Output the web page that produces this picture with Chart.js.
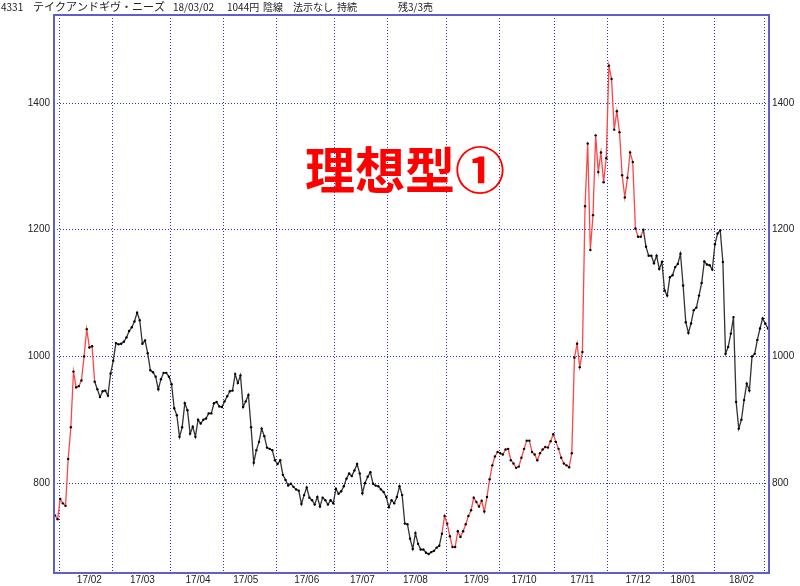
<!DOCTYPE html>
<html>
<head>
<meta charset="utf-8">
<script src="https://cdn.jsdelivr.net/npm/chart.js@4.4.1/dist/chart.umd.min.js"></script>
<style>
  body { margin: 0; background: #fff; }
  #wrap { width: 800px; height: 586px; position: relative; }
</style>
</head>
<body>
<div id="wrap"><canvas id="priceChart"></canvas></div>
<script>
// Month labels on the x axis (17/02 .. 18/02)
const monthLabels = ['17/02', '17/03', '17/04', '17/05', '17/06', '17/07', '17/08',
  '17/09', '17/10', '17/11', '17/12', '18/01', '18/02'];
// Trading days per month: Jan17 (tail), Feb17 .. Feb18, Mar18 (head)
const monthDays = [2, 20, 22, 20, 20, 22, 20, 22, 20, 21, 20, 21, 19, 19, 2];
// Trading days before the 16th in each labelled month
const midOffset = [11, 11, 10, 8, 11, 10, 10, 11, 9, 10, 11, 7, 10];

// Daily closes, 17/01/30 .. 18/03/02
const closes = [
  749, 743,
  775, 768, 764, 838, 888, 976, 951, 953, 962, 1000, 1043, 1014, 1016, 960, 948, 936, 945, 946, 938, 973,
  993, 1021, 1019, 1020, 1023, 1030, 1040, 1046, 1055, 1069, 1057, 1020, 1025, 1005, 978, 975, 968, 948, 964, 974, 974, 968,
  956, 918, 907, 873, 888, 926, 915, 878, 889, 873, 900, 894, 900, 902, 910, 910, 926, 928, 921, 920,
  929, 937, 945, 946, 972, 958, 970, 920, 929, 939, 888, 832, 852, 865, 886, 874, 856, 854, 852, 836,
  830, 836, 813, 805, 796, 799, 794, 790, 788, 767, 781, 793, 777, 773, 766, 778, 763, 777, 773, 766, 773, 768,
  791, 783, 787, 795, 807, 815, 811, 820, 830, 815, 784, 800, 810, 817, 799, 796, 795, 790, 786, 778,
  762, 773, 768, 778, 795, 781, 736, 735, 712, 696, 721, 704, 695, 695, 690, 688, 691, 693, 698, 701, 720, 748,
  736, 716, 699, 699, 724, 715, 724, 735, 748, 757, 777, 770, 763, 772, 755, 778, 806, 828, 842, 849,
  847, 845, 853, 854, 836, 831, 824, 826, 840, 854, 867, 867, 849, 845, 836, 847, 853, 857, 856, 866, 877,
  865, 854, 840, 831, 828, 825, 847, 998, 1020, 983, 1007, 1237, 1336, 1168, 1223, 1349, 1291, 1322, 1275, 1313,
  1459, 1438, 1358, 1387, 1354, 1286, 1251, 1282, 1322, 1307, 1202, 1189, 1189, 1200, 1173, 1159, 1159, 1147, 1159, 1138, 1149,
  1104, 1096, 1125, 1128, 1141, 1146, 1162, 1112, 1054, 1037, 1052, 1073, 1077, 1096, 1116, 1150, 1145, 1144, 1137,
  1177, 1194, 1199, 1149, 1004, 1015, 1036, 1062, 928, 886, 900, 931, 957, 946, 1000, 1004, 1026, 1044, 1060,
  1052, 1044
];
// Index ranges drawn in red (trend phases)
const redRanges = [[0, 15], [146, 222]];
const yTicks = [800, 1000, 1200, 1400];

// month start indices
const monthStart = [0];
monthDays.forEach(d => monthStart.push(monthStart[monthStart.length - 1] + d));
const gridIdx = monthStart.slice(1, monthDays.length).map(s => s - 0.35);
const labelIdx = monthLabels.map((_, k) => monthStart[k + 1] + midOffset[k]);

const RED = 'rgb(255,70,70)';
const DARK = '#333';
const GRID = 'rgb(50,50,190)';
const isRed = i => redRanges.some(r => i >= r[0] && i < r[1]);

const frame = {
  id: 'frame',
  beforeDraw(chart) {
    const c = chart.ctx;
    c.save();
    c.fillStyle = '#fff';
    c.fillRect(0, 0, chart.width, chart.height);
    c.restore();
  },
  afterDraw(chart) {
    const c = chart.ctx;
    const a = chart.chartArea;
    c.save();
    c.strokeStyle = 'rgb(95,95,200)';
    c.lineWidth = 2;
    c.strokeRect(a.left, a.top, a.right - a.left, a.bottom - a.top);

    // header line
    c.fillStyle = '#222';
    c.textBaseline = 'middle';
    const head = [['4331', 1, 10], ['テイクアンドギヴ・ニーズ', 33, 11], ['18/03/02', 173, 10], ['1044円', 227, 10],
      ['陰線', 263, 10], ['法示なし', 293, 10], ['持続', 337, 10], ['残3/3売', 398, 10]];
    head.forEach(([t, x, sz]) => {
      c.font = sz + 'px "Noto Sans CJK JP"';
      c.fillText(t, x, 7);
    });

    // big annotation
    c.fillStyle = '#ff0000';
    c.font = 'bold 50px "Noto Sans CJK JP"';
    c.textAlign = 'center';
    c.fillText('理想型①', 405, 170);
    c.restore();
  }
};

const tickFont = { family: '"Liberation Sans", Arial', size: 10 };

new Chart(document.getElementById('priceChart'), {
  type: 'line',
  data: {
    datasets: [{
      data: closes.map((v, i) => ({ x: i, y: v })),
      borderWidth: 1.3,
      borderColor: DARK,
      segment: {
        borderColor: ctx => isRed(ctx.p0DataIndex) ? RED : DARK
      },
      pointRadius: 1.2,
      pointBorderWidth: 0,
      pointBackgroundColor: '#000',
      tension: 0
    }]
  },
  options: {
    responsive: true,
    maintainAspectRatio: false,
    animation: false,
    layout: { padding: { top: 15, left: 0, right: 0, bottom: 0 } },
    plugins: { legend: { display: false }, tooltip: { enabled: false } },
    scales: {
      x: {
        type: 'linear',
        position: 'bottom',
        min: -0.35,
        max: 269.4,
        grid: { color: GRID, lineWidth: 1, drawTicks: false },
        border: { display: false, dash: [1, 2] },
        ticks: { display: false },
        afterBuildTicks: s => { s.ticks = gridIdx.map(v => ({ value: v })); },
        afterFit: s => { s.height = 0; }
      },
      xl: {
        type: 'linear',
        position: 'bottom',
        min: -0.35,
        max: 269.4,
        grid: { display: false, drawTicks: false },
        border: { display: false },
        ticks: {
          autoSkip: false, maxRotation: 0, padding: 1, color: '#222', font: tickFont,
          callback: (v, i) => monthLabels[i]
        },
        afterBuildTicks: s => { s.ticks = labelIdx.map(v => ({ value: v })); },
        afterFit: s => { s.height = 13; }
      },
      y: {
        position: 'left',
        min: 658,
        max: 1539,
        grid: { color: GRID, lineWidth: 1, drawTicks: false },
        border: { display: false, dash: [1, 2] },
        ticks: { padding: 4, color: '#222', font: tickFont, callback: v => String(v) },
        afterBuildTicks: s => { s.ticks = yTicks.map(v => ({ value: v })); },
        afterFit: s => { s.width = 54; }
      },
      y2: {
        position: 'right',
        min: 658,
        max: 1539,
        grid: { display: false, drawTicks: false },
        border: { display: false },
        ticks: { padding: 3, color: '#222', font: tickFont, callback: v => String(v) },
        afterBuildTicks: s => { s.ticks = yTicks.map(v => ({ value: v })); },
        afterFit: s => { s.width = 31; }
      }
    }
  },
  plugins: [frame]
});
</script>
</body>
</html>
